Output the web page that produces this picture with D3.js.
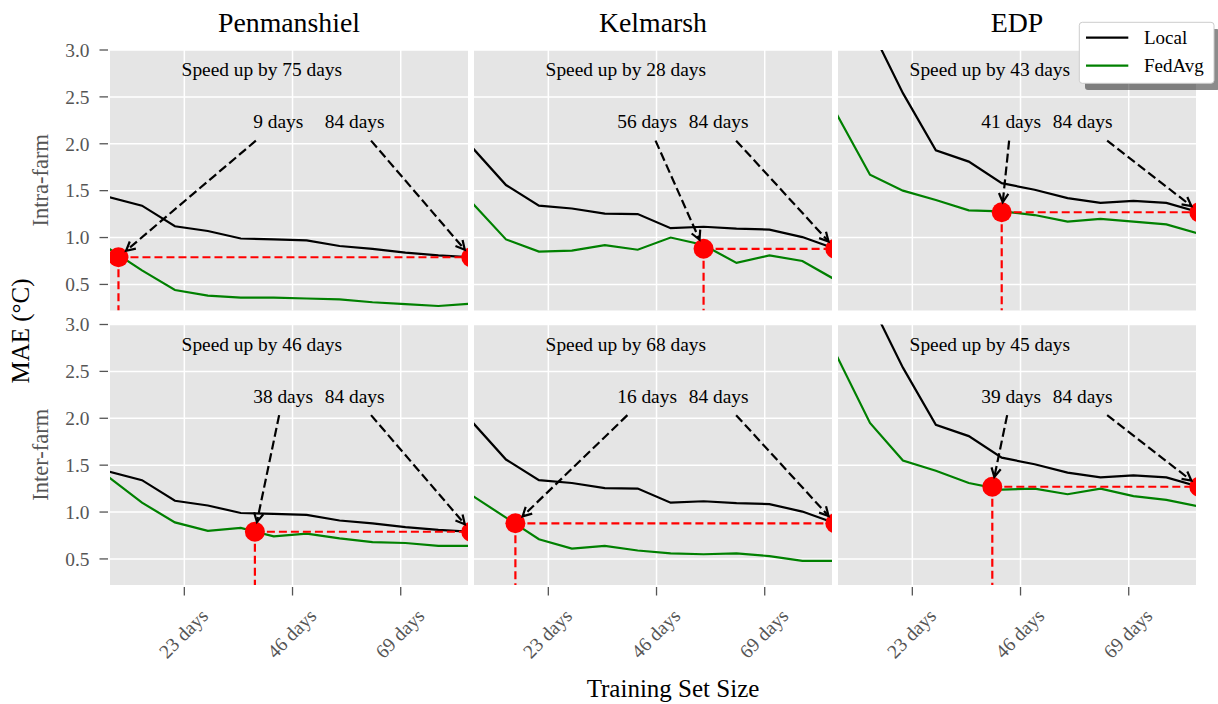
<!DOCTYPE html>
<html><head><meta charset="utf-8">
<script src="https://cdn.jsdelivr.net/npm/d3@7"></script>
<style>
body{margin:0;background:#fff;}
svg text{font-family:"Liberation Serif","DejaVu Serif","Times New Roman",serif;}
</style></head><body><svg id="c" width="1218" height="704"></svg>
<script>
// ---------------- data ----------------
const days = [7, 14, 21, 28, 35, 42, 49, 56, 63, 70, 77, 84];
const farms = ["Penmanshiel", "Kelmarsh", "EDP"];
const rowLabels = ["Intra-farm", "Inter-farm"];
const seriesNames = ["Local", "FedAvg"];

const localPenmanshiel = [1.43, 1.34, 1.12, 1.07, 0.99, 0.98, 0.97, 0.91, 0.88, 0.84, 0.81, 0.79];
const localKelmarsh    = [1.95, 1.56, 1.34, 1.31, 1.255, 1.25, 1.10, 1.115, 1.095, 1.085, 1.005, 0.88];
const localEDP         = [4.10, 3.25, 2.54, 1.93, 1.81, 1.58, 1.51, 1.42, 1.37, 1.39, 1.37, 1.27];

const fedIntraPenmanshiel = [0.88, 0.65, 0.44, 0.38, 0.36, 0.36, 0.35, 0.34, 0.31, 0.29, 0.27, 0.295];
const fedIntraKelmarsh    = [1.36, 0.98, 0.85, 0.86, 0.92, 0.87, 1.00, 0.92, 0.73, 0.81, 0.75, 0.55];
const fedIntraEDP         = [2.31, 1.67, 1.50, 1.40, 1.29, 1.28, 1.24, 1.17, 1.20, 1.17, 1.14, 1.04];

const fedInterPenmanshiel = [1.37, 1.10, 0.89, 0.80, 0.83, 0.74, 0.77, 0.72, 0.68, 0.67, 0.64, 0.64];
const fedInterKelmarsh    = [1.17, 0.94, 0.71, 0.61, 0.64, 0.59, 0.56, 0.55, 0.56, 0.53, 0.48, 0.48];
const fedInterEDP         = [2.66, 1.95, 1.55, 1.44, 1.31, 1.24, 1.25, 1.19, 1.25, 1.17, 1.13, 1.06];

// crossing days as labelled, and where the marker is drawn
const crossDaysLabel = [[9, 56, 41], [38, 16, 39]];
const crossDaysDot   = [[9, 56, 42], [38, 16, 40]];
const speedUpDays    = [[75, 28, 43], [46, 68, 45]];
const fullDays = 84;

const xTickValues = [23, 46, 69];
const xTickLabels = ["23 days", "46 days", "69 days"];
const yTickValues = [0.5, 1.0, 1.5, 2.0, 2.5, 3.0];
const yTickLabels = ["0.5", "1.0", "1.5", "2.0", "2.5", "3.0"];

const localByFarm = [localPenmanshiel, localKelmarsh, localEDP];
const fedByRow = [[fedIntraPenmanshiel, fedIntraKelmarsh, fedIntraEDP],
                  [fedInterPenmanshiel, fedInterKelmarsh, fedInterEDP]];

// ---------------- layout ----------------
const svg = d3.select("#c");
const colX = [110, 474, 838], panelW = 358;
const rowY = [50, 324.5], panelH = 260.5;
const BG = "#E5E5E5", GRAY = "#555555", GREEN = "#008000", RED = "#ff0000";
const LW = 2.2;

const x = d3.scaleLinear().domain([7.2, 83.3]).range([0, panelW]);
const y = d3.scaleLinear().domain([0.222, 3.0]).range([panelH, 0]);
const line = d3.line().x(d => x(d[0])).y(d => y(d[1]));

function drawArrow(g, cxT, cyT, tx, ty) {
  const dx = tx - cxT, dy = ty - cyT;
  const t0 = 19 / dy;
  const sx = cxT + dx * t0, sy = cyT + dy * t0;
  const len = Math.hypot(tx - sx, ty - sy);
  const ux = (tx - sx) / len, uy = (ty - sy) / len;
  const ex = tx - ux * 10, ey = ty - uy * 10;
  g.append("line").attr("x1", sx).attr("y1", sy).attr("x2", ex).attr("y2", ey)
    .attr("stroke", "black").attr("stroke-width", LW).attr("stroke-dasharray", "9,4");
  const hl = 10, ang = 28 * Math.PI / 180;
  const pts = [-1, 1].map(s => {
    const c = Math.cos(s * ang), sn = Math.sin(s * ang);
    const rx = ux * c - uy * sn, ry = ux * sn + uy * c;
    return [ex - rx * hl, ey - ry * hl];
  });
  g.append("path").attr("d", `M${pts[0][0]},${pts[0][1]}L${ex},${ey}L${pts[1][0]},${pts[1][1]}`)
    .attr("fill", "none").attr("stroke", "black").attr("stroke-width", LW);
}

for (let r = 0; r < 2; r++) {
  for (let c = 0; c < 3; c++) {
    const g = svg.append("g").attr("transform", `translate(${colX[c]},${rowY[r]})`);
    const cid = `clip-${r}-${c}`;
    g.append("clipPath").attr("id", cid).append("rect")
      .attr("x", 0).attr("y", 0).attr("width", panelW).attr("height", panelH);
    g.append("rect").attr("width", panelW).attr("height", panelH).attr("fill", BG);
    // grid
    g.selectAll(".gy").data(yTickValues).enter().append("line")
      .attr("x1", 0).attr("x2", panelW).attr("y1", d => y(d)).attr("y2", d => y(d))
      .attr("stroke", "white").attr("stroke-width", 1.5);
    g.selectAll(".gx").data(xTickValues).enter().append("line")
      .attr("y1", 0).attr("y2", panelH).attr("x1", d => x(d)).attr("x2", d => x(d))
      .attr("stroke", "white").attr("stroke-width", 1.5);

    const p = g.append("g").attr("clip-path", `url(#${cid})`);
    const local = localByFarm[c], fed = fedByRow[r][c];
    p.append("path").datum(days.map((d, i) => [d, local[i]])).attr("d", line)
      .attr("fill", "none").attr("stroke", "black").attr("stroke-width", LW);
    p.append("path").datum(days.map((d, i) => [d, fed[i]])).attr("d", line)
      .attr("fill", "none").attr("stroke", GREEN).attr("stroke-width", LW);

    const thr = local[local.length - 1];
    const dotX = x(crossDaysDot[r][c]), dotY = y(thr), endX = x(fullDays);
    p.append("line").attr("x1", dotX).attr("x2", endX).attr("y1", dotY).attr("y2", dotY)
      .attr("stroke", RED).attr("stroke-width", LW).attr("stroke-dasharray", "8,4");
    p.append("line").attr("x1", dotX).attr("x2", dotX).attr("y1", dotY).attr("y2", panelH)
      .attr("stroke", RED).attr("stroke-width", LW).attr("stroke-dasharray", "8,4");
    p.selectAll(".dot").data([crossDaysDot[r][c], fullDays]).enter().append("circle")
      .attr("cx", d => x(d)).attr("cy", dotY).attr("r", 10).attr("fill", RED);

    // annotations
    g.append("text").attr("x", 0.2 * panelW).attr("y", panelH * 0.1)
      .attr("font-size", 19.4).attr("fill", "black")
      .text(`Speed up by ${speedUpDays[r][c]} days`);
    const labels = [[`${crossDaysLabel[r][c]} days`, 0.4, dotX], [`${fullDays} days`, 0.6, endX]];
    labels.forEach(([txt, fx, tx]) => {
      const t = g.append("text").attr("x", fx * panelW).attr("y", panelH * 0.3)
        .attr("font-size", 19.4).attr("fill", "black").text(txt);
      const bb = t.node().getBBox();
      drawArrow(g, bb.x + bb.width / 2, bb.y + bb.height / 2, tx, dotY);
    });

    // y ticks
    if (c === 0) {
      g.selectAll(".ty").data(yTickValues).enter().append("line")
        .attr("x1", -10.5).attr("x2", -2).attr("y1", d => y(d)).attr("y2", d => y(d))
        .attr("stroke", GRAY).attr("stroke-width", 1.3);
      g.selectAll(".tyl").data(yTickValues).enter().append("text")
        .attr("x", -20.5).attr("y", d => y(d)).attr("dy", "0.35em")
        .attr("text-anchor", "end").attr("font-size", 19.4).attr("fill", GRAY)
        .text((d, i) => yTickLabels[i]);
    }
    // x ticks
    if (r === 1) {
      g.selectAll(".tx").data(xTickValues).enter().append("line")
        .attr("y1", panelH + 2).attr("y2", panelH + 10.5).attr("x1", d => x(d)).attr("x2", d => x(d))
        .attr("stroke", GRAY).attr("stroke-width", 1.3);
      g.selectAll(".txl").data(xTickValues).enter().append("text")
        .attr("transform", d => `translate(${x(d) - 1},${panelH + 48.5}) rotate(-45)`)
        .attr("dy", "0.35em").attr("text-anchor", "middle")
        .attr("font-size", 19.4).attr("fill", GRAY)
        .text((d, i) => xTickLabels[i]);
    }
  }
}

// titles
farms.forEach((f, c) => {
  svg.append("text").attr("x", colX[c] + panelW / 2).attr("y", 31.7)
    .attr("text-anchor", "middle").attr("font-size", 27.8).attr("fill", "black").text(f);
});
// row labels
rowLabels.forEach((l, r) => {
  svg.append("text").attr("transform", `translate(40,${rowY[r] + panelH / 2}) rotate(-90)`)
    .attr("dy", "0.35em").attr("text-anchor", "middle").attr("font-size", 22.5)
    .attr("fill", GRAY).text(l);
});
svg.append("text").attr("transform", "translate(20,331) rotate(-90)")
  .attr("dy", "0.35em").attr("text-anchor", "middle").attr("font-size", 25)
  .attr("fill", "black").text("MAE (°C)");
svg.append("text").attr("x", 673).attr("y", 697).attr("text-anchor", "middle")
  .attr("font-size", 25).attr("fill", "black").text("Training Set Size");

// legend
const lg = svg.append("g");
lg.append("rect").attr("x", 1085).attr("y", 29).attr("width", 134.7).attr("height", 61)
  .attr("rx", 3).attr("fill", "black").attr("fill-opacity", 0.45);
lg.append("rect").attr("x", 1079.3).attr("y", 22.3).attr("width", 134.7).attr("height", 61)
  .attr("rx", 3).attr("fill", "white").attr("stroke", "#cccccc").attr("stroke-width", 1);
const legColors = ["black", GREEN];
seriesNames.forEach((s, i) => {
  const yy = 37.7 + i * 28;
  lg.append("line").attr("x1", 1086).attr("x2", 1128.3).attr("y1", yy).attr("y2", yy)
    .attr("stroke", legColors[i]).attr("stroke-width", 2.2);
  lg.append("text").attr("x", 1144).attr("y", yy + 6).attr("font-size", 19)
    .attr("fill", "black").text(s);
});
</script></body></html>
